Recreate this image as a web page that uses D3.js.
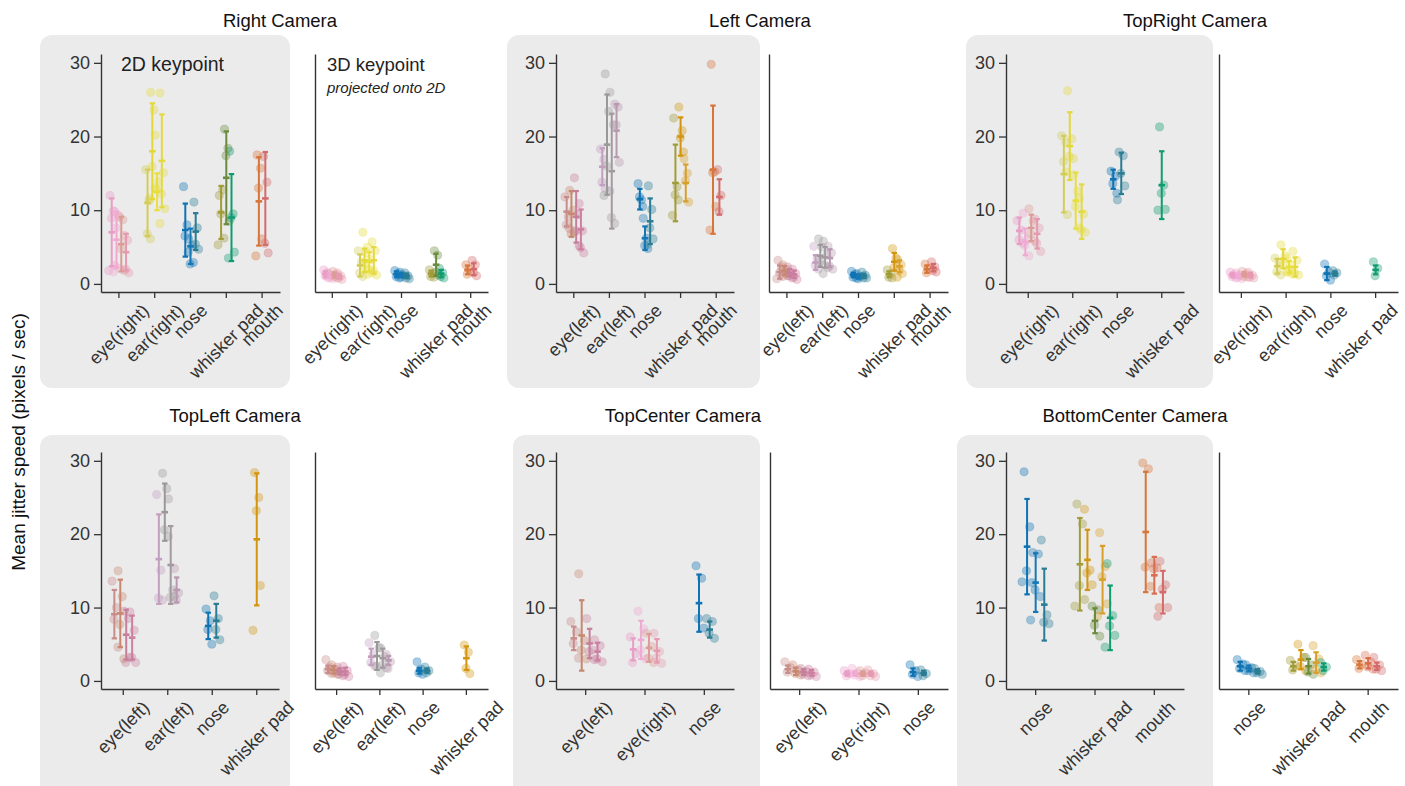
<!DOCTYPE html>
<html>
<head>
<meta charset="utf-8">
<script src="https://cdn.jsdelivr.net/npm/d3@7"></script>
<style>
  body { margin: 0; background: #fff; }
  svg { display: block; font-family: "Liberation Sans", Arial, sans-serif; }
</style>
</head>
<body>
<svg id="chart" width="1405" height="786"></svg>
<script>
// ---- data: per camera, categories and [subgroup, mean, sd, points] ----
const rightCats = ["eye(right)", "ear(right)", "nose", "whisker pad", "mouth"];
const right2D = [
  [["eyeR-a", 7.0, 4.6, [12.0, 9.9, 8.9, 2.5, 1.8]], ["eyeR-b", 6.0, 3.8, [9.8, 9.3, 7.6, 2.1, 1.6]],
   ["eyeR-c", 5.4, 3.7, [9.1, 8.7, 4.8, 1.8]], ["eyeR-d", 4.3, 2.5, [6.6, 5.9, 2.0, 1.5]]],
  [["earR-a", 11.0, 4.5, [15.5, 11.3, 6.8, 6.1]], ["earR-b", 18.0, 6.5, [26.0, 23.6, 15.9, 13.0, 11.6]],
   ["earR-c", 12.5, 2.5, [20.2, 13.9, 12.8, 8.2]], ["earR-d", 16.7, 6.3, [25.9, 15.1, 12.2, 10.2]]],
  [["nose-a", 7.3, 3.6, [13.2, 8.0, 6.5, 4.3]], ["nose-b", 5.1, 2.4, [6.1, 5.2, 2.7, 2.9]],
   ["nose-c", 7.1, 2.5, [11.1, 7.6, 5.4, 4.7]]],
  [["wp-a", 9.7, 3.6, [12.0, 12.8, 9.5, 6.2, 5.3]], ["wp-b", 14.4, 6.3, [21.0, 18.4, 17.4, 8.5]],
   ["wp-c", 9.0, 5.9, [18.0, 9.5, 9.0, 4.3, 3.5]]],
  [["mo-a", 11.2, 6.0, [17.5, 15.7, 13.0, 6.1, 3.8]], ["mo-c", 11.6, 6.3, [17.3, 13.8, 5.5, 4.2]]]
];
const right3D = [
  [["eyeR-a", 1.3, 0.4, [1.9, 1.5, 1.1, 0.8]], ["eyeR-b", 1.1, 0.3, [1.5, 1.2, 0.9, 0.7]],
   ["eyeR-c", 1.2, 0.35, [1.7, 1.3, 1.0, 0.8]], ["eyeR-d", 1.0, 0.3, [1.5, 1.1, 0.8, 0.6]]],
  [["earR-a", 2.5, 1.5, [4.5, 3.0, 1.5, 1.0]], ["earR-b", 3.2, 1.6, [7.0, 4.2, 2.5, 1.3]],
   ["earR-c", 3.0, 1.3, [5.0, 3.3, 2.0, 1.5]], ["earR-d", 3.2, 1.8, [5.7, 4.5, 1.8, 1.2]]],
  [["nose-a", 1.3, 0.4, [1.8, 1.4, 1.0, 0.8]], ["nose-b", 1.2, 0.3, [1.6, 1.2, 0.9]],
   ["nose-c", 1.1, 0.3, [1.5, 1.1, 0.8, 0.7]]],
  [["wp-a", 1.4, 0.4, [1.9, 1.4, 1.0, 0.9]], ["wp-b", 2.6, 1.5, [4.5, 3.9, 1.6, 1.2]],
   ["wp-c", 1.4, 0.5, [2.1, 1.5, 1.0, 0.8]]],
  [["mo-a", 1.9, 0.6, [2.6, 2.0, 1.3]], ["mo-c", 2.0, 0.8, [3.2, 2.6, 1.5, 1.1]]]
];

const leftCats = ["eye(left)", "ear(left)", "nose", "whisker pad", "mouth"];
const left2D = [
  [["eyeL-a", 9.8, 2.0, [11.8, 9.1, 8.0, 7.5]], ["eyeL-b", 9.5, 3.1, [12.7, 10.0, 6.8, 7.0]],
   ["eyeL-c", 9.1, 3.5, [14.4, 9.4, 7.2, 5.2]], ["eyeL-d", 7.4, 2.7, [10.9, 7.2, 4.9, 4.2]]],
  [["earL-a", 15.9, 2.5, [18.3, 16.9, 13.8, 12.9]], ["earL-b", 18.9, 6.8, [28.5, 23.4, 16.0, 12.6, 12.0]],
   ["earL-c", 15.3, 7.8, [26.0, 21.6, 9.0, 8.2]], ["earL-d", 20.8, 3.6, [24.4, 24.0, 21.6, 16.5]]],
  [["nose-a", 11.5, 1.4, [13.6, 11.4, 11.8, 10.5]], ["nose-b", 6.2, 1.6, [8.9, 6.2, 5.2, 4.8]],
   ["nose-c", 8.5, 3.1, [13.3, 10.1, 7.6, 6.1, 5.3]]],
  [["wp-a", 13.7, 5.2, [22.5, 13.2, 12.1, 11.4, 9.3]], ["wp-d", 20.0, 2.6, [24.0, 20.8, 19.8, 17.9]],
   ["wp-e", 13.7, 2.5, [17.0, 15.0, 14.0, 11.1]]],
  [["mo-a", 15.5, 8.7, [29.8, 15.2, 15.1, 10.5, 7.3]], ["mo-c", 11.8, 2.4, [15.5, 12.0, 9.8]]]
];
const left3D = [
  [["eyeL-a", 1.6, 0.9, [3.2, 2.3, 1.5, 1.0, 0.7]], ["eyeL-b", 1.8, 0.6, [2.6, 2.0, 1.4, 1.1]],
   ["eyeL-c", 1.5, 0.5, [2.3, 1.6, 1.1, 0.8]], ["eyeL-d", 1.3, 0.5, [2.0, 1.4, 0.9, 0.6]]],
  [["earL-a", 2.9, 1.0, [5.1, 3.5, 2.5, 2.0]], ["earL-b", 3.8, 1.5, [6.1, 5.0, 3.0, 1.4]],
   ["earL-c", 3.6, 1.4, [5.8, 4.0, 2.6, 2.2]], ["earL-d", 3.5, 1.2, [5.1, 4.2, 2.4, 2.0]]],
  [["nose-a", 1.2, 0.3, [1.7, 1.3, 0.9, 0.8]], ["nose-b", 1.0, 0.3, [1.4, 1.0, 0.7]],
   ["nose-c", 1.1, 0.3, [1.6, 1.2, 0.8, 0.8]]],
  [["wp-a", 1.3, 0.4, [1.9, 1.4, 0.9, 0.8]], ["wp-d", 3.0, 1.2, [4.8, 3.5, 2.2, 0.9]],
   ["wp-e", 2.4, 0.8, [3.3, 2.6, 1.8, 1.4]]],
  [["mo-a", 2.0, 0.5, [2.7, 2.1, 1.5]], ["mo-c", 2.2, 0.5, [3.0, 2.3, 1.8, 1.6]]]
];

const topRightCats = ["eye(right)", "ear(right)", "nose", "whisker pad"];
const topRight2D = [
  [["eyeR-a", 7.2, 1.8, [8.6, 7.3, 6.0, 5.5]], ["eyeR-b", 5.7, 1.8, [9.6, 6.0, 5.2, 3.8]],
   ["eyeR-c", 7.6, 1.8, [10.2, 8.5, 6.8, 5.8]], ["eyeR-d", 6.8, 2.0, [8.8, 7.6, 5.5, 4.4]]],
  [["earR-a", 14.9, 5.2, [20.1, 19.2, 16.6, 9.4]], ["earR-b", 18.7, 4.6, [26.2, 19.7, 17.3, 17.0, 15.2]],
   ["earR-c", 11.3, 3.8, [14.8, 12.6, 10.5, 7.6]], ["earR-d", 9.8, 3.7, [11.6, 9.5, 7.3, 7.0]]],
  [["nose-a", 14.2, 1.3, [15.3, 14.6, 13.6, 12.3]], ["nose-c", 15.0, 2.8, [17.9, 17.4, 15.0, 13.3, 11.4]]],
  [["wp-c", 13.4, 4.6, [21.3, 13.4, 12.3, 10.1, 10.0]]]
];
const topRight3D = [
  [["eyeR-a", 1.2, 0.3, [1.6, 1.3, 1.0, 0.8]], ["eyeR-b", 1.1, 0.3, [1.5, 1.2, 0.9, 0.7]],
   ["eyeR-c", 1.3, 0.3, [1.7, 1.4, 1.0, 0.9]], ["eyeR-d", 1.2, 0.3, [1.6, 1.2, 0.9, 0.8]]],
  [["earR-a", 2.4, 1.0, [3.5, 2.8, 1.6, 1.2]], ["earR-b", 3.4, 1.3, [5.3, 3.8, 2.6, 1.6]],
   ["earR-c", 2.3, 0.8, [3.4, 2.5, 1.6, 1.3]], ["earR-d", 2.3, 1.3, [4.4, 3.2, 1.5, 1.2]]],
  [["nose-a", 1.4, 0.9, [2.7, 1.6, 1.1, 0.5]], ["nose-c", 1.4, 0.3, [1.8, 1.5, 1.2]]],
  [["wp-c", 1.9, 0.6, [3.0, 2.1, 1.1]]]
];

const topLeftCats = ["eye(left)", "ear(left)", "nose", "whisker pad"];
const topLeft2D = [
  [["eyeL-a", 9.1, 3.3, [13.6, 10.0, 8.4, 4.6]], ["eyeL-b", 9.2, 4.6, [15.0, 11.5, 7.7, 3.0]],
   ["eyeL-c", 6.3, 3.4, [9.5, 8.5, 2.5, 3.2]], ["eyeL-d", 5.9, 3.0, [9.4, 6.9, 3.2, 2.5]]],
  [["earL-a", 16.6, 6.1, [25.4, 15.1, 11.3, 11.0]], ["earL-b", 23.0, 3.9, [28.3, 26.2, 20.6, 19.7]],
   ["earL-c", 15.8, 5.3, [24.8, 12.4, 11.4, 11.5]], ["earL-d", 12.4, 1.7, [15.3, 12.0, 11.0]]],
  [["nose-a", 7.5, 1.8, [9.8, 8.2, 7.0, 5.0]], ["nose-c", 8.2, 2.3, [11.6, 8.5, 7.0, 5.6]]],
  [["wp-d", 19.3, 9.0, [28.4, 25.0, 23.2, 13.0, 6.9]]]
];
const topLeft3D = [
  [["eyeL-a", 1.6, 0.5, [2.9, 1.9, 1.4, 1.0]], ["eyeL-b", 1.5, 0.5, [2.2, 1.6, 1.1, 0.9]],
   ["eyeL-c", 1.3, 0.4, [1.9, 1.3, 0.9, 0.7]], ["eyeL-d", 1.3, 0.5, [2.0, 1.4, 0.9, 0.6]]],
  [["earL-a", 3.3, 1.1, [5.2, 3.6, 2.5, 2.0]], ["earL-b", 3.4, 1.9, [6.2, 4.5, 2.0, 1.1]],
   ["earL-c", 3.1, 1.3, [4.5, 3.3, 2.2, 1.8]], ["earL-d", 2.8, 0.6, [3.6, 2.6, 1.7]]],
  [["nose-a", 1.4, 0.4, [2.6, 1.6, 1.1, 0.9]], ["nose-c", 1.4, 0.3, [1.9, 1.4, 1.1]]],
  [["wp-d", 3.1, 1.6, [4.9, 3.9, 1.7, 1.0]]]
];

const topCenterCats = ["eye(left)", "eye(right)", "nose"];
const topCenter2D = [
  [["eyeL-a", 5.8, 1.6, [8.1, 6.7, 5.1, 3.1]], ["eyeL-b", 6.2, 4.8, [14.6, 5.5, 4.2, 3.0]],
   ["eyeL-c", 5.1, 2.0, [8.5, 4.2, 4.0, 2.9]], ["eyeL-d", 4.0, 1.2, [5.6, 4.8, 3.0, 2.6]]],
  [["eyeR-a", 4.3, 1.5, [6.0, 3.7, 2.5]], ["eyeR-b", 5.6, 2.6, [9.5, 7.1, 4.2, 3.0]],
   ["eyeR-c", 4.5, 1.9, [6.5, 4.7, 3.1, 2.5]], ["eyeR-d", 4.1, 1.6, [6.5, 4.0, 3.1, 2.4]]],
  [["nose-a", 10.6, 3.9, [15.7, 14.0, 8.5, 7.2]], ["nose-c", 7.0, 1.1, [8.5, 8.1, 6.5, 5.8]]]
];
const topCenter3D = [
  [["eyeL-a", 1.6, 0.5, [2.6, 1.8, 1.2]], ["eyeL-b", 1.3, 0.5, [2.2, 1.5, 1.0, 0.8]],
   ["eyeL-c", 1.2, 0.4, [1.7, 1.3, 0.9, 0.7]], ["eyeL-d", 1.1, 0.4, [1.6, 1.2, 0.8, 0.6]]],
  [["eyeR-a", 1.0, 0.3, [1.4, 1.0, 0.7]], ["eyeR-b", 1.0, 0.3, [1.7, 1.1, 0.8, 0.6]],
   ["eyeR-c", 1.0, 0.3, [1.4, 1.1, 0.7]], ["eyeR-d", 1.0, 0.3, [1.5, 1.0, 0.7, 0.6]]],
  [["nose-a", 1.2, 0.5, [2.2, 1.4, 0.9, 0.6]], ["nose-c", 1.1, 0.3, [1.5, 1.0, 0.7]]]
];

const bottomCenterCats = ["nose", "whisker pad", "mouth"];
const bottomCenter2D = [
  [["nose-a", 18.3, 6.5, [28.5, 21.0, 15.0, 13.4, 13.5]], ["nose-b", 13.4, 4.0, [17.5, 17.3, 12.4, 11.5, 8.3]],
   ["nose-c", 10.4, 4.9, [19.2, 9.0, 8.0, 7.8]]],
  [["wp-a", 15.9, 6.3, [24.1, 21.4, 13.0, 11.1, 10.2]], ["wp-d", 16.5, 4.1, [23.4, 15.1, 14.7, 13.1]],
   ["wp-b", 8.2, 1.7, [10.2, 9.7, 7.6, 6.1]], ["wp-e", 13.8, 4.6, [20.2, 15.6, 14.2, 10.5, 8.8]],
   ["wp-c", 8.6, 4.4, [16.0, 8.9, 7.5, 6.2, 4.6]]],
  [["mo-a", 20.3, 8.2, [29.7, 28.9, 15.5, 12.9]], ["mo-b", 14.4, 2.5, [16.1, 15.4, 15.3, 10.0]],
   ["mo-c", 12.1, 2.9, [16.3, 13.1, 12.5, 10.0, 8.8]]]
];
const bottomCenter3D = [
  [["nose-a", 2.0, 0.6, [2.9, 2.3, 1.7, 1.4]], ["nose-b", 1.7, 0.4, [2.2, 1.8, 1.4, 1.1]],
   ["nose-c", 1.3, 0.3, [1.7, 1.3, 1.1, 0.9]]],
  [["wp-a", 2.0, 0.6, [2.8, 2.1, 1.5]], ["wp-d", 2.9, 1.3, [5.0, 3.2, 2.0, 1.4]],
   ["wp-b", 2.0, 1.0, [3.2, 2.2, 1.2, 0.9]], ["wp-e", 2.5, 1.4, [4.8, 3.0, 1.6, 1.1]],
   ["wp-c", 1.9, 0.5, [2.5, 1.9, 1.4]]],
  [["mo-a", 2.2, 0.5, [2.9, 2.3, 1.7]], ["mo-b", 2.4, 0.7, [3.5, 2.6, 1.9, 1.6]],
   ["mo-c", 2.0, 0.5, [3.2, 2.2, 1.6, 1.4]]]
];

const yTicks = [0, 10, 20, 30];

// ---- styles ----
const colors = {
  "eyeR-a": "#e99cc6", "eyeR-b": "#f0a9d2", "eyeR-c": "#dc9c95", "eyeR-d": "#e59aaf",
  "eyeL-a": "#c88c8a", "eyeL-b": "#c8886f", "eyeL-c": "#c67f9a", "eyeL-d": "#cc7fa0",
  "earR-a": "#d3cd56", "earR-b": "#e2d838", "earR-c": "#e8df3a", "earR-d": "#e4da40",
  "earL-a": "#c39fbf", "earL-b": "#999999", "earL-c": "#a39aa0", "earL-d": "#b899b0",
  "nose-a": "#0d73b4", "nose-b": "#1577b5", "nose-c": "#2a7c95",
  "wp-a": "#a09c38", "wp-b": "#6a8b3e", "wp-c": "#109c70", "wp-d": "#d3950f", "wp-e": "#d8a02a",
  "mo-a": "#d7753a", "mo-b": "#d86e4d", "mo-c": "#d46a6a"
};
const JIT = [-0.5, 0.45, -0.1, 0.8, -0.85, 0.25, -0.35];
const INK = "#333";
const FS = 18;

const svg = d3.select("#chart");

const panels = [
  {title: "Right Camera", tx: 280, row: 0, box: [40, 250], cats: rightCats, d2: right2D, d3: right3D, x2: [101, 280], x3: [315, 488]},
  {title: "Left Camera", tx: 760, row: 0, box: [507, 253], cats: leftCats, d2: left2D, d3: left3D, x2: [556, 734], x3: [769, 948]},
  {title: "TopRight Camera", tx: 1195, row: 0, box: [966, 247], cats: topRightCats, d2: topRight2D, d3: topRight3D, x2: [1006, 1184], x3: [1219, 1398]},
  {title: "TopLeft Camera", tx: 235, row: 1, box: [40, 250], cats: topLeftCats, d2: topLeft2D, d3: topLeft3D, x2: [101, 279], x3: [315, 488]},
  {title: "TopCenter Camera", tx: 683, row: 1, box: [513, 247], cats: topCenterCats, d2: topCenter2D, d3: topCenter3D, x2: [556, 734], x3: [770, 948]},
  {title: "BottomCenter Camera", tx: 1135, row: 1, box: [957, 256], cats: bottomCenterCats, d2: bottomCenter2D, d3: bottomCenter3D, x2: [1006, 1184], x3: [1219, 1398]}
];

function drawAxes(g, cats, xr, y, showY) {
  const x = d3.scaleBand().domain(cats).range(xr);
  const axisY = y.range()[0];

  const yg = g.append("g").attr("transform", `translate(${xr[0]},0)`)
    .call(d3.axisLeft(y).tickValues(showY ? yTicks : []).tickSize(7).tickSizeOuter(0).tickPadding(4));
  const xg = g.append("g").attr("transform", `translate(0,${axisY})`)
    .call(d3.axisBottom(x).tickSize(6).tickSizeOuter(0).tickFormat(""));
  [yg, xg].forEach(a => {
    a.select(".domain").attr("stroke", INK).attr("stroke-width", 1.4);
    a.selectAll(".tick line").attr("stroke", INK).attr("stroke-width", 1.3);
    a.selectAll(".tick text").attr("fill", INK).attr("font-size", FS).attr("font-family", null);
  });

  // rotated category labels, centred under the tick like matplotlib rotation=45
  cats.forEach(c => {
    const t = g.append("text").text(c)
      .attr("font-size", FS).attr("fill", INK)
      .attr("text-anchor", "middle").attr("dominant-baseline", "central");
    const L = t.node().getComputedTextLength();
    const w = (L + FS * 0.85) * Math.SQRT1_2;
    let cx = x(c) + x.bandwidth() / 2;
    cx = Math.min(cx, 1400 - w / 2);
    const cy = axisY + 10 + w / 2;
    t.attr("transform", `translate(${cx},${cy}) rotate(-45)`);
  });
  return x;
}

function drawMarks(g, cats, data, x, y) {
  const step = x.step();
  const items = [];
  data.forEach((subs, ci) => {
    const n = subs.length;
    const span = n > 1 ? step * (0.07 + 0.11 * (n - 1)) : 0;
    subs.forEach(([key, m, sd, pts], si) => {
      const cx = x(cats[ci]) + step / 2 + (n > 1 ? -span / 2 + span * si / (n - 1) : 0);
      items.push({cx, key, m, sd, pts});
    });
  });

  // strip points first
  items.forEach(it => {
    g.append("g").selectAll("circle")
      .data(it.pts)
      .join("circle")
      .attr("cx", (d, i) => it.cx + JIT[i % JIT.length] * step * 0.1)
      .attr("cy", d => y(d))
      .attr("r", 4.1)
      .attr("fill", colors[it.key])
      .attr("fill-opacity", 0.36)
      .attr("stroke", colors[it.key])
      .attr("stroke-opacity", 0.3)
      .attr("stroke-width", 0.8);
  });

  // mean +/- sd bars on top
  items.forEach(it => {
    const col = colors[it.key];
    const bar = g.append("g").attr("stroke", col).attr("stroke-linecap", "butt");
    const top = y(it.m + it.sd), bot = y(Math.max(it.m - it.sd, -1)), mid = y(it.m);
    bar.append("line").attr("x1", it.cx).attr("x2", it.cx).attr("y1", top).attr("y2", bot).attr("stroke-width", 2);
    [top, bot].forEach(v => bar.append("line")
      .attr("x1", it.cx - 2.7).attr("x2", it.cx + 2.7).attr("y1", v).attr("y2", v).attr("stroke-width", 2.2));
    bar.append("line").attr("x1", it.cx - 3.3).attr("x2", it.cx + 3.3).attr("y1", mid).attr("y2", mid).attr("stroke-width", 2.6);
  });
}

panels.forEach(p => {
  const top = p.row === 0 ? 35 : 435;
  const g = svg.append("g");
  g.append("rect").attr("x", p.box[0]).attr("y", top).attr("width", p.box[1]).attr("height", p.row === 0 ? 353 : 370)
    .attr("rx", 12).attr("fill", "#ebebeb");
  g.append("text").attr("x", p.tx).attr("y", p.row === 0 ? 27 : 422).attr("text-anchor", "middle")
    .attr("font-size", 18.5).attr("fill", "#111").text(p.title);

  const y = d3.scaleLinear().domain([-1.1, 31.2]).range(p.row === 0 ? [292, 54] : [689, 452]);
  const x2 = drawAxes(g, p.cats, p.x2, y, true);
  const x3 = drawAxes(g, p.cats, p.x3, y, false);
  drawMarks(g, p.cats, p.d2, x2, y);
  drawMarks(g, p.cats, p.d3, x3, y);
});

// panel annotations
svg.append("text").attr("x", 121).attr("y", 71).attr("font-size", 19.5).attr("fill", "#222").text("2D keypoint");
svg.append("text").attr("x", 327).attr("y", 71).attr("font-size", 18.5).attr("fill", "#222").text("3D keypoint");
svg.append("text").attr("x", 327).attr("y", 93).attr("font-size", 15).attr("font-style", "italic").attr("fill", "#222").text("projected onto 2D");

// shared y label
svg.append("text").attr("transform", "translate(25,442) rotate(-90)").attr("text-anchor", "middle")
  .attr("font-size", 19).attr("fill", "#111").text("Mean jitter speed (pixels / sec)");
</script>
</body>
</html>
